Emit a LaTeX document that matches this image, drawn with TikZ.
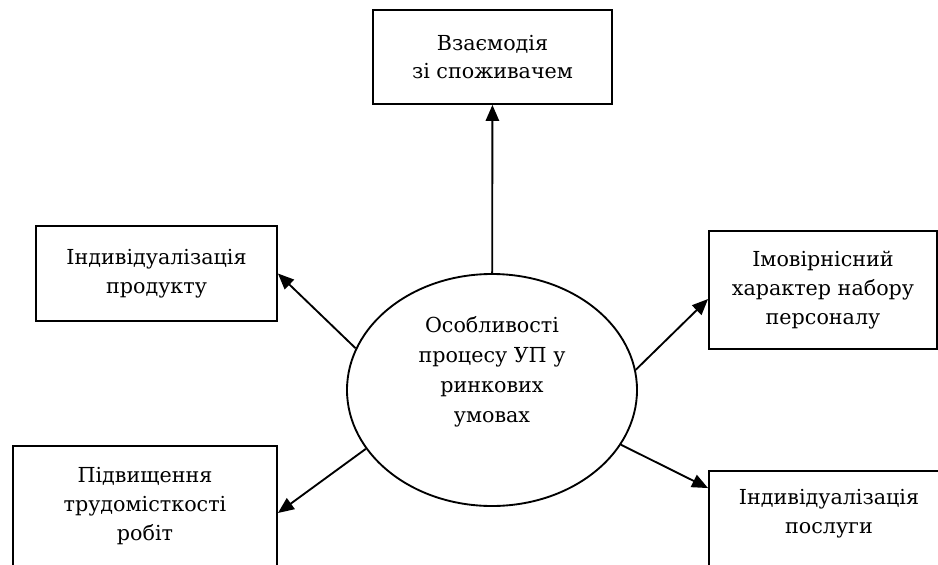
\documentclass[tikz,border=0pt]{standalone}
\usepackage{fontspec}
\setmainfont{DejaVu Serif}
\usetikzlibrary{arrows.meta,shapes.geometric,calc}
\tikzset{
  box/.style={draw,line width=1.4pt,rectangle,align=center,inner sep=0pt,font=\fontsize{15.5}{21.5}\selectfont},
  conn/.style={line width=1.4pt,-{Triangle[length=12pt,width=10pt]}}
}
\begin{document}
\begin{tikzpicture}[x=0.75pt,y=0.75pt,yscale=-1,xscale=1]
        \useasboundingbox (0,0) rectangle (938,564);
        % Ellipse Node
        \draw (492,390) node [ellipse,draw,line width=1.4pt,minimum width=217.5pt,minimum height=174pt,inner sep=0pt,align=center,font=\fontsize{15.5}{22.5}\selectfont,text depth=31pt] (centre) {Особливості\\процесу УП у\\ринкових\\умовах};
        % Text Node
        \draw (492.5,57) node [box,minimum width=179.25pt,minimum height=70.5pt] (top) {Взаємодія\\зі споживачем};
        % Text Node
        \draw (156.5,273.5) node [box,minimum width=180.75pt,minimum height=71.25pt] (tl) {Індивідуалізація\\продукту};
        % Text Node
        \draw (823,290) node [box,minimum width=171pt,minimum height=88.5pt] (tr) {Імовірнісний\\характер набору\\персоналу};
        % Text Node
        \draw (145,506) node [box,minimum width=198pt,minimum height=90pt] (bl) {Підвищення\\трудомісткості\\робіт};
        % Text Node
        \draw (829,521) node [box,minimum width=180pt,minimum height=75pt,text depth=14pt] (br) {Індивідуалізація\\послуги};
        % Connection
        \draw [conn] (centre) -- (top);
        % Connection
        \draw [conn] (centre.163) -- (tl.east);
        % Connection
        \draw [conn] (centre.8) -- ($(tr.west)+(0,9)$);
        % Connection
        \draw [conn] (centre.205) -- ($(bl.east)+(0,7)$);
        % Connection
        \draw [conn] (centre.337) -- ($(br.north west)+(0,18)$);
    \end{tikzpicture}
\end{document}
